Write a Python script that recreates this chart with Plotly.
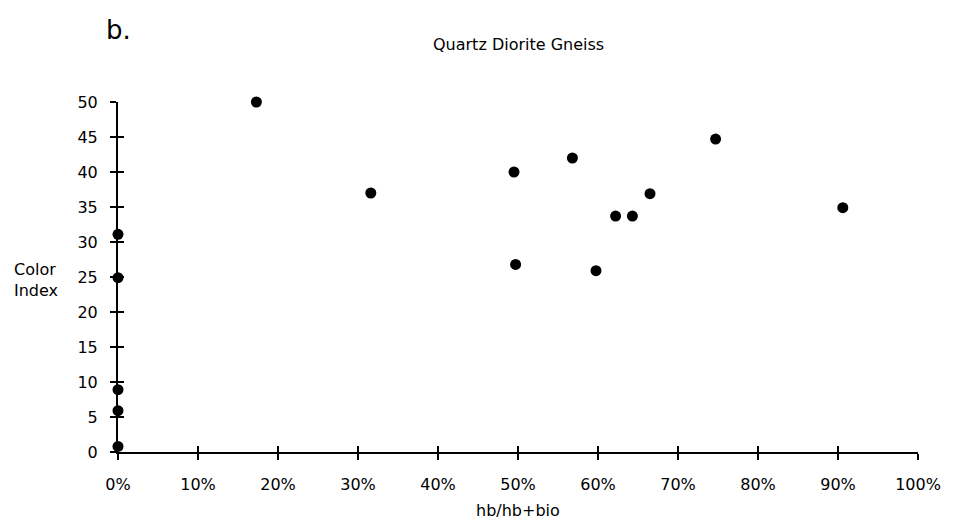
import plotly.graph_objects as go

# Data (x as fraction hb/(hb+bio), y = Color Index)
hb_ratio = [0.173, 0.316, 0.495, 0.497, 0.568, 0.5975, 0.622, 0.643, 0.665, 0.747, 0.906,
            0.0, 0.0, 0.0, 0.0, 0.0]
color_index = [50.0, 37.0, 40.0, 26.8, 42.0, 25.9, 33.7, 33.7, 36.9, 44.7, 34.9,
               31.1, 24.9, 8.9, 5.9, 0.8]

x_ticks = [i / 10 for i in range(11)]
x_tick_labels = [f"{i*10}%" for i in range(11)]
y_ticks = list(range(0, 51, 5))

FONT = "DejaVu Sans, Liberation Sans, Arial, sans-serif"

fig = go.Figure()
fig.add_trace(go.Scatter(
    x=hb_ratio, y=color_index, mode="markers",
    marker=dict(color="black", size=11),
    cliponaxis=False, showlegend=False,
))
# invisible trace on the overlay axes so they are drawn
fig.add_trace(go.Scatter(x=[0], y=[0], xaxis="x2", yaxis="y2", mode="markers",
                         marker=dict(opacity=0), showlegend=False, hoverinfo="skip"))

axis_common = dict(showgrid=False, zeroline=False, showline=True, linecolor="black",
                   linewidth=2, tickcolor="black", tickwidth=2, ticklen=6)

fig.update_layout(
    width=953, height=522,
    margin=dict(l=118, r=35, t=102, b=70),
    paper_bgcolor="white", plot_bgcolor="white",
    font=dict(family=FONT, color="black", size=16),
    xaxis=dict(range=[0, 1], tickvals=x_ticks, ticktext=x_tick_labels, ticks="outside",
               tickfont=dict(size=16), ticklabelstandoff=11, **axis_common),
    yaxis=dict(range=[0, 50], tickvals=y_ticks, ticks="outside",
               tickfont=dict(size=16), ticklabelstandoff=9, **axis_common),
    xaxis2=dict(range=[0, 1], tickvals=x_ticks, ticks="inside", showticklabels=False,
                overlaying="x", anchor="y2", **axis_common),
    yaxis2=dict(range=[0, 50], tickvals=y_ticks, ticks="inside", showticklabels=False,
                overlaying="y", anchor="x2", **axis_common),
    annotations=[
        dict(text="b.", x=0.0, y=1.206, xref="paper", yref="paper", showarrow=False,
             font=dict(size=26, family=FONT), xanchor="center", yanchor="middle"),
        dict(text="Quartz Diorite Gneiss", x=0.5, y=1.163, xref="paper", yref="paper",
             showarrow=False, font=dict(size=16, family=FONT), xanchor="center", yanchor="middle"),
        dict(text="Color<br>Index", x=-0.133, y=0.491, xref="paper", yref="paper",
             showarrow=False, font=dict(size=16, family=FONT), xanchor="left", yanchor="middle",
             align="left"),
        dict(text="hb/hb+bio", x=0.5, y=-0.166, xref="paper", yref="paper",
             showarrow=False, font=dict(size=16, family=FONT), xanchor="center", yanchor="middle"),
    ],
)

fig.write_html("out.html")
